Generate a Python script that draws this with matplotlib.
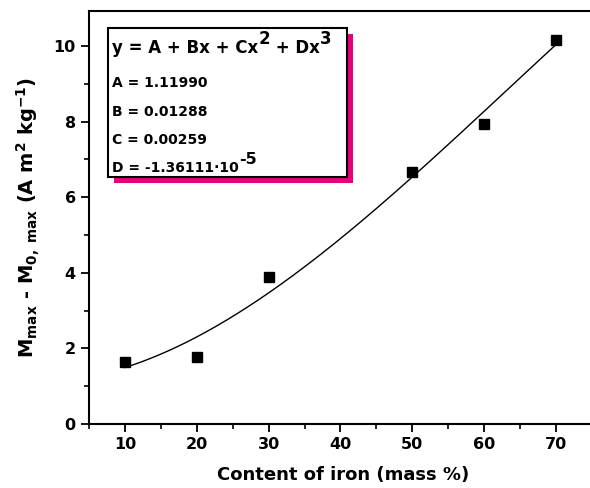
import numpy as np
import matplotlib
matplotlib.use("Agg")
import matplotlib.pyplot as plt
from matplotlib.patches import Rectangle
from matplotlib.ticker import MultipleLocator

# Données
iron_content = [10, 20, 30, 50, 60, 70]
delta_m = [1.65, 1.78, 3.88, 6.68, 7.95, 10.15]

# Coefficients du fit polynomial affichés dans l'encadré (A, B, C, D)
fit_coeffs = [1.11990, 0.01288, 0.00259, -1.36111e-5]
fit_range = [10, 70]

plt.rcParams["font.family"] = "DejaVu Sans"
plt.rcParams["mathtext.fontset"] = "custom"
plt.rcParams["mathtext.rm"] = "DejaVu Sans:bold"
plt.rcParams["mathtext.default"] = "rm"

W, H = 590, 488
fig = plt.figure(figsize=(W / 100, H / 100), dpi=100)
ax = fig.add_axes([89 / W, 64 / H, 508 / W, 413 / H])

x_fit = np.linspace(fit_range[0], fit_range[1], 200)
y_fit = np.polyval(fit_coeffs[::-1], x_fit)
ax.plot(x_fit, y_fit, color="black", lw=1.0, zorder=2)
ax.plot(iron_content, delta_m, "s", color="black", ms=7, zorder=3)

ax.set_xlim(5, 75.7)
ax.set_ylim(0, 10.93)
ax.xaxis.set_major_locator(MultipleLocator(10))
ax.xaxis.set_minor_locator(MultipleLocator(5))
ax.yaxis.set_major_locator(MultipleLocator(2))
ax.yaxis.set_minor_locator(MultipleLocator(1))
ax.tick_params(which="major", direction="out", length=6, width=1.3,
               labelsize=11.5, top=False, right=False)
ax.tick_params(which="minor", direction="out", length=3.5, width=1.2,
               top=False, right=False)
for lab in ax.get_xticklabels() + ax.get_yticklabels():
    lab.set_fontweight("bold")
for sp in ax.spines.values():
    sp.set_linewidth(1.5)
ax.spines["right"].set_visible(False)

ax.set_xlabel("Content of iron (mass %)", fontsize=13, fontweight="bold", labelpad=10)
ax.set_ylabel(r"M$_{\mathregular{max}}$ - M$_{\mathregular{0,\ max}}$ (A m$^{2}$ kg$^{-1}$)",
              fontsize=14, fontweight="bold", labelpad=8)

# Encadré avec ombre magenta
bx0, bx1, by_top, by_bot = 108, 347, 28, 177
fig.patches.append(Rectangle(((bx0 + 6) / W, 1 - (by_bot + 6) / H),
                             (bx1 - bx0) / W, (by_bot - by_top) / H,
                             transform=fig.transFigure, facecolor="#e5007d",
                             edgecolor="none", zorder=5))
fig.patches.append(Rectangle((bx0 / W, 1 - by_bot / H),
                             (bx1 - bx0) / W, (by_bot - by_top) / H,
                             transform=fig.transFigure, facecolor="white",
                             edgecolor="black", lw=1.5, zorder=6))

renderer = fig.canvas.get_renderer()


def write_pieces(x_px, y_px, pieces):
    """Écrit une suite de morceaux (texte, taille, décalage vertical en px) côte à côte."""
    for txt, size, dy in pieces:
        t = fig.text(x_px / W, 1 - (y_px - dy) / H, txt, fontsize=size,
                     fontweight="bold", va="baseline", zorder=7)
        x_px += t.get_window_extent(renderer).width


tx = 112
write_pieces(tx, 53, [("y = A + Bx + Cx", 12, 0), ("2", 12, 9),
                      (" + Dx", 12, 0), ("3", 12, 9)])
lines = [f"A = {fit_coeffs[0]:.5f}", f"B = {fit_coeffs[1]:.5f}",
         f"C = {fit_coeffs[2]:.5f}"]
for i, txt in enumerate(lines):
    write_pieces(tx, 87 + 28.5 * i, [(txt, 10, 0)])
write_pieces(tx, 172.5, [("D = -1.36111·10", 10, 0), ("-5", 11.5, 8)])

plt.savefig("out.png", dpi=100)
plt.close()
